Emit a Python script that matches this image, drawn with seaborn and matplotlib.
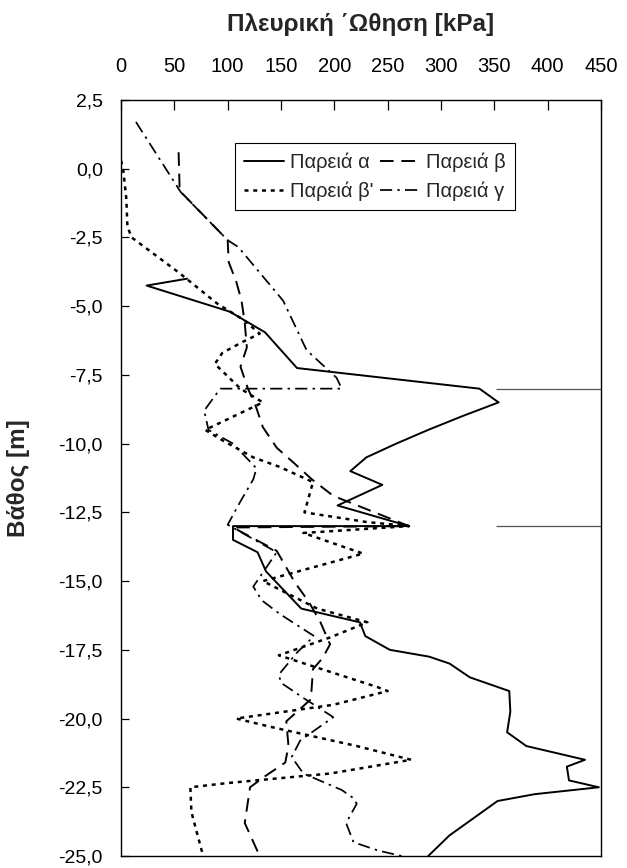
import matplotlib
matplotlib.use("Agg")
import matplotlib.pyplot as plt
from matplotlib.ticker import FuncFormatter
import seaborn as sns
import pandas as pd

# ---------------- data ----------------
alpha_x = [62, 24, 102, 135, 165, 336, 354, 320, 288, 258, 230, 215, 245, 203, 270, 105, 105, 128,
           136, 169, 224, 229, 252, 289, 308, 327, 364, 365, 362, 380, 435, 418, 420, 448, 388,
           353, 308, 288]
alpha_y = [-4.0, -4.25, -5.2, -5.95, -7.25, -8.0, -8.5, -9.0, -9.5, -10.0, -10.5, -11.0, -11.5, -12.25,
           -13.0, -13.0, -13.5, -13.95, -14.65, -16.0, -16.5, -17.0, -17.5, -17.75, -18.0, -18.5,
           -19.0, -19.75, -20.5, -21.0, -21.5, -21.75, -22.25, -22.5, -22.75, -23.0, -24.25, -25.0]

beta_x = [54, 55, 100, 101, 108, 113, 116, 118, 112, 119, 126, 133, 146, 162, 179, 199, 270, 105,
          146, 163, 176, 187, 196, 189, 180, 178, 155, 157, 154, 135, 121, 116, 130]
beta_y = [0.6, -0.8, -2.6, -3.4, -4.1, -4.8, -5.6, -6.5, -7.2, -8.0, -8.6, -9.4, -10.15, -10.7,
          -11.3, -11.9, -13.0, -13.05, -13.9, -15.05, -15.75, -16.5, -17.3, -17.8, -18.2, -19.3,
          -20.1, -21.0, -21.6, -22.1, -22.5, -23.8, -25.0]

betap_x = [0, 2, 5, 6, 10, 55, 90, 115, 130, 114, 95, 88, 112, 133, 79, 96, 124, 149, 180, 172,
           230, 270, 171, 227, 133, 184, 231, 196, 148, 240, 250, 199, 108, 140, 221, 272, 196,
           99, 65, 66, 77]
betap_y = [0.3, 0.0, -1.1, -2.1, -2.5, -3.8, -4.9, -5.5, -6.0, -6.3, -6.7, -7.1, -8.0, -8.5, -9.5,
           -9.9, -10.5, -10.85, -11.4, -12.5, -12.85, -13.0, -13.25, -14.0, -15.0, -16.0, -16.5,
           -17.05, -17.7, -18.85, -19.0, -19.5, -20.0, -20.3, -21.0, -21.5, -22.0, -22.35, -22.5,
           -23.4, -25.0]

gamma_x = [14, 56, 100, 110, 152, 174, 202, 207, 93, 78, 82, 105, 127, 124, 112, 100, 146, 124,
           132, 149, 181, 165, 148, 150, 171, 199, 168, 160, 171, 207, 218, 221, 211, 218, 241, 263]
gamma_y = [1.7, -0.85, -2.6, -2.85, -4.8, -6.6, -7.6, -8.0, -8.0, -8.8, -9.5, -10.0, -10.9, -11.3,
           -12.1, -12.95, -13.95, -15.2, -15.7, -16.2, -17.0, -17.6, -18.4, -18.7, -19.25, -19.95,
           -20.8, -21.4, -22.0, -22.6, -22.9, -23.1, -23.8, -24.5, -24.8, -25.0]

series_labels = ["Παρειά α", "Παρειά β", "Παρειά β'", "Παρειά γ"]

marker_depths = [-8.0, -13.0]
marker_x_start = 352
marker_x_end = 450

x_ticks = [0, 50, 100, 150, 200, 250, 300, 350, 400, 450]
y_ticks = [2.5, 0.0, -2.5, -5.0, -7.5, -10.0, -12.5, -15.0, -17.5, -20.0, -22.5, -25.0]

x_title = "Πλευρική ΄Ωθηση [kPa]"
y_title = "Βάθος [m]"

# ---------------- style ----------------
sns.set_style("white")
plt.rcParams["font.family"] = ["Liberation Sans", "DejaVu Sans"]
plt.rcParams["axes.unicode_minus"] = False

fig = plt.figure(figsize=(6.27, 8.68), dpi=100)
ax = fig.add_axes([121 / 627, 1 - 856 / 868, 480 / 627, 756 / 868])

styles = {
    series_labels[0]: dict(linestyle="-", lw=1.4),
    series_labels[1]: dict(linestyle=(0, (7, 4)), lw=1.4),
    series_labels[2]: dict(linestyle=(0, (1.6, 1.9)), lw=1.8),
    series_labels[3]: dict(linestyle=(0, (7, 3, 1.4, 3)), lw=1.25),
}

data = [(alpha_x, alpha_y), (beta_x, beta_y), (betap_x, betap_y), (gamma_x, gamma_y)]
handles = {}
for lab, (xs, ys) in zip(series_labels, data):
    df = pd.DataFrame({"x": xs, "y": ys})
    sns.lineplot(data=df, x="x", y="y", sort=False, estimator=None, ax=ax,
                 color="black", **styles[lab])
    handles[lab] = ax.lines[-1]

ax.hlines(marker_depths, marker_x_start, marker_x_end, colors="#555555", lw=0.9)

ax.set_xlim(0, 450)
ax.set_ylim(-25, 2.5)
ax.set_xticks(x_ticks)
ax.set_yticks(y_ticks)
ax.yaxis.set_major_formatter(FuncFormatter(lambda v, p: f"{v:.1f}".replace(".", ",")))
ax.xaxis.set_major_formatter(FuncFormatter(lambda v, p: f"{v:.0f}"))

ax.xaxis.tick_top()
ax.tick_params(axis="x", which="both", top=True, bottom=False, direction="in", length=7,
               width=0.9, labelsize=14.5, pad=17, colors="black")
ax.tick_params(axis="y", which="both", left=True, right=False, direction="in", length=6,
               width=0.9, labelsize=14, pad=13, colors="black")

for s in ax.spines.values():
    s.set_visible(True)
    s.set_color("black")
    s.set_linewidth(1.0)

ax.set_xlabel(x_title, fontsize=17.5, fontweight="bold")
ax.xaxis.set_label_position("top")
ax.xaxis.label.set_verticalalignment("center")
ax.xaxis.set_label_coords(0.5, 1 + (100 - 25) / 756)

ax.set_ylabel(y_title, fontsize=17.5, fontweight="bold")
ax.yaxis.label.set_verticalalignment("center")
ax.yaxis.label.set_horizontalalignment("center")
ax.yaxis.set_label_coords((19 - 121) / 480, 0.5)

order = [series_labels[0], series_labels[2], series_labels[1], series_labels[3]]
leg = ax.legend([handles[k] for k in order], order, ncol=2, loc="upper left",
                bbox_to_anchor=(114 / 480, 1 - 43 / 756), borderaxespad=0,
                frameon=True, fancybox=False, shadow=False, framealpha=1,
                edgecolor="black", fontsize=14.5, handlelength=2.0, handletextpad=0.3,
                columnspacing=0.3, labelspacing=0.5, borderpad=0.45)
leg.get_frame().set_linewidth(0.8)

fig.savefig("out.png", dpi=100)
